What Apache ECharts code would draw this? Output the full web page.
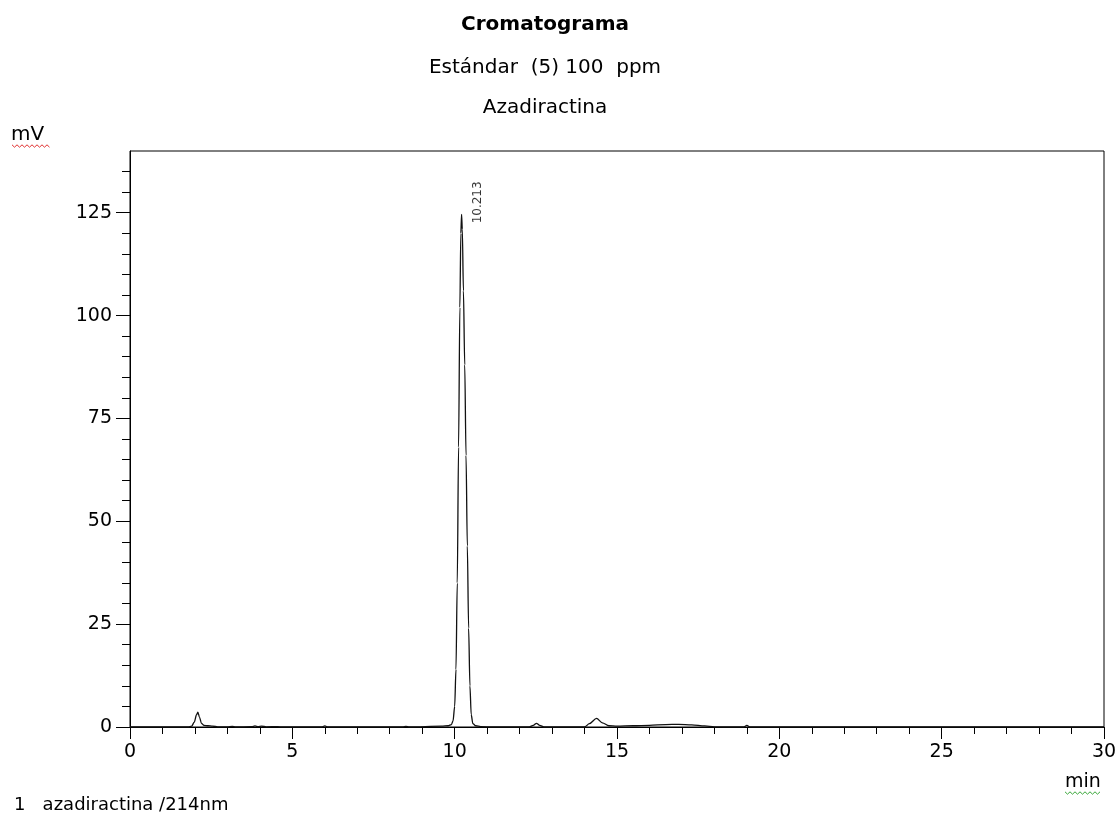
<!DOCTYPE html>
<html>
<head>
<meta charset="utf-8">
<title>Cromatograma</title>
<script src="https://cdn.jsdelivr.net/npm/echarts@6/dist/echarts.min.js"></script>
<style>
  html, body { margin: 0; padding: 0; background: #fff; }
  #chart { width: 1117px; height: 819px; }
</style>
</head>
<body>
<div id="chart"></div>
<script>
// Detector trace: retention time (min) and signal (mV)
const retentionTime = [
  0.00, 1.80, 1.90, 1.98, 2.05, 2.09, 2.14, 2.20, 2.28, 2.40, 2.55, 2.70,
  3.00, 3.15, 3.25, 3.75, 3.85, 3.95, 4.05, 4.20, 4.55, 4.70,
  5.90, 6.00, 6.10, 8.40, 8.50, 8.60, 9.60, 9.80, 9.90, 9.95,
  10.00, 10.04, 10.08, 10.12, 10.16, 10.19, 10.213, 10.235, 10.27, 10.31,
  10.35, 10.39, 10.43, 10.47, 10.51, 10.56, 10.65, 10.80, 11.20,
  12.30, 12.42, 12.52, 12.62, 12.75, 14.00, 14.15, 14.37, 14.55, 14.75,
  15.00, 15.50, 16.00, 16.50, 16.90, 17.30, 17.70, 18.00, 18.30,
  18.90, 19.00, 19.10, 30.00
];
const signal = [
  0.0, 0.0, 0.2, 1.2, 3.0, 3.6, 2.4, 0.9, 0.4, 0.3, 0.2, 0.05,
  0.0, 0.15, 0.0, 0.1, 0.25, 0.1, 0.2, 0.05, 0.1, 0.0,
  0.0, 0.25, 0.0, 0.0, 0.15, 0.0, 0.2, 0.3, 0.6, 1.5,
  5.0, 14.0, 35.0, 68.0, 102.0, 120.0, 124.6, 121.0, 106.0, 88.0,
  66.0, 44.0, 24.0, 10.0, 3.0, 0.8, 0.3, 0.1, 0.0,
  0.0, 0.4, 0.9, 0.4, 0.0, 0.0, 0.8, 2.1, 1.0, 0.3,
  0.2, 0.3, 0.4, 0.6, 0.65, 0.5, 0.25, 0.05, 0.0,
  0.0, 0.4, 0.0, 0.0
];

// Integrated peak (retention time label)
const peakTimes = [10.213];
const peakHeights = [124.6];

// Axis ticks
const yMajorTicks = [0, 25, 50, 75, 100, 125];
const yMinorTicks = [0, 5, 10, 15, 20, 25, 30, 35, 40, 45, 50, 55, 60, 65, 70,
  75, 80, 85, 90, 95, 100, 105, 110, 115, 120, 125, 130, 135];

const FONT = '"DejaVu Sans", "Liberation Sans", Arial, sans-serif';
const INK = '#000';

// Red / green wavy underline like an editor's spelling mark
function wavy(x0, x1, y, amp, step) {
  const pts = [];
  let up = true;
  for (let x = x0; x <= x1; x += step) {
    pts.push([x, y + (up ? -amp : amp)]);
    up = !up;
  }
  return pts;
}

const chart = echarts.init(document.getElementById('chart'), null, { renderer: 'canvas' });

chart.setOption({
  animation: false,
  backgroundColor: '#fff',
  grid: {
    left: 130, right: 13, top: 151, bottom: 92,
    outerBoundsMode: 'none',
    containLabel: false,
    show: true, borderColor: INK, borderWidth: 1, backgroundColor: 'transparent'
  },
  xAxis: [
    {
      type: 'value', min: 0, max: 30, interval: 5, position: 'bottom',
      axisLine: { show: true, onZero: false, lineStyle: { color: INK, width: 1 } },
      axisTick: { show: true, length: 12, lineStyle: { color: INK, width: 1 } },
      axisLabel: { show: true, margin: 16, color: INK, fontFamily: FONT, fontSize: 19 },
      splitLine: { show: false }
    },
    {
      type: 'value', min: 0, max: 30, interval: 1, position: 'bottom',
      axisLine: { show: false, onZero: false },
      axisTick: { show: true, length: 7, lineStyle: { color: INK, width: 1 } },
      axisLabel: { show: false },
      splitLine: { show: false }
    }
  ],
  yAxis: [
    {
      type: 'value', min: 0, max: 140, position: 'left',
      axisLine: { show: true, onZero: false, lineStyle: { color: INK, width: 1 } },
      axisTick: { show: true, length: 14, customValues: yMajorTicks, lineStyle: { color: INK, width: 1 } },
      axisLabel: { show: true, margin: 18, customValues: yMajorTicks, color: INK, fontFamily: FONT, fontSize: 19 },
      splitLine: { show: false }
    },
    {
      type: 'value', min: 0, max: 140, position: 'left',
      axisLine: { show: false, onZero: false },
      axisTick: { show: true, length: 8, customValues: yMinorTicks, lineStyle: { color: INK, width: 1 } },
      axisLabel: { show: false },
      splitLine: { show: false }
    }
  ],
  series: [
    {
      name: 'azadiractina /214nm',
      type: 'line',
      xAxisIndex: 0, yAxisIndex: 0,
      data: retentionTime.map((t, i) => [t, signal[i]]),
      showSymbol: false,
      smooth: 0.3,
      smoothMonotone: 'x',
      lineStyle: { color: '#111', width: 1.3 },
      z: 3
    },
    {
      name: 'peaks',
      type: 'scatter',
      xAxisIndex: 0, yAxisIndex: 0,
      data: peakTimes.map((t, i) => [t, peakHeights[i]]),
      symbolSize: 0,
      label: {
        show: true,
        formatter: p => p.value[0].toFixed(3),
        position: [16, 9],
        rotate: 90,
        align: 'left',
        verticalAlign: 'middle',
        color: INK,
        fontFamily: FONT,
        fontSize: 12
      },
      z: 4
    }
  ],
  graphic: [
    { type: 'text', x: 545, y: 25, style: { text: 'Cromatograma', font: 'bold 20px ' + FONT, fill: INK, textAlign: 'center', textVerticalAlign: 'middle' } },
    { type: 'text', x: 545, y: 68, style: { text: 'Estándar  (5) 100  ppm', font: '20px ' + FONT, fill: INK, textAlign: 'center', textVerticalAlign: 'middle' } },
    { type: 'text', x: 545, y: 108, style: { text: 'Azadiractina', font: '20px ' + FONT, fill: INK, textAlign: 'center', textVerticalAlign: 'middle' } },
    { type: 'text', x: 11, y: 135, style: { text: 'mV', font: '20px ' + FONT, fill: INK, textAlign: 'left', textVerticalAlign: 'middle' } },
    { type: 'polyline', shape: { points: wavy(12, 50, 146, 1.2, 2.5) }, style: { stroke: '#e03030', lineWidth: 1, fill: null } },
    { type: 'text', x: 1065, y: 782, style: { text: 'min', font: '19px ' + FONT, fill: INK, textAlign: 'left', textVerticalAlign: 'middle' } },
    { type: 'polyline', shape: { points: wavy(1065, 1102, 793, 1.2, 2.5) }, style: { stroke: '#3aa83a', lineWidth: 1, fill: null } },
    { type: 'text', x: 14, y: 805, style: { text: '1   azadiractina /214nm', font: '18px ' + FONT, fill: INK, textAlign: 'left', textVerticalAlign: 'middle' } }
  ]
});
</script>
</body>
</html>
